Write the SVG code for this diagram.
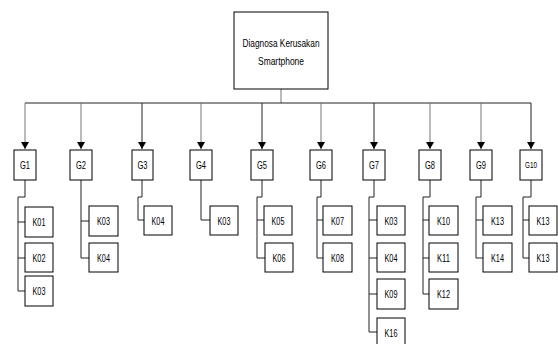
<svg xmlns="http://www.w3.org/2000/svg" width="558" height="344" viewBox="0 0 558 344">
<style>
rect{fill:#fff;stroke:#000;stroke-width:1}
text{font-family:"Liberation Sans",Arial,sans-serif;font-size:11px;fill:#000;text-anchor:middle}
.c{fill:none;stroke:#222;stroke-width:1}
.g{fill:none;stroke:#777;stroke-width:1}
</style>
<defs><marker id="a" markerWidth="8" markerHeight="8" refX="7" refY="4" orient="auto" markerUnits="userSpaceOnUse"><path d="M0,0L7,4L0,8z" fill="#000"/></marker></defs>
<rect width="558" height="344" style="stroke:none"/>
<g id="connectors">
<path class="g" d="M281,89V103"/>
<path class="c" d="M25,103H531"/>
<path class="g" d="M25,103V149" marker-end="url(#a)"/>
<path class="g" d="M81,103V149" marker-end="url(#a)"/>
<path class="c" d="M142,103V149" marker-end="url(#a)"/>
<path class="g" d="M201,103V149" marker-end="url(#a)"/>
<path class="c" d="M262,103V149" marker-end="url(#a)"/>
<path class="g" d="M321,103V149" marker-end="url(#a)"/>
<path class="c" d="M374,103V149" marker-end="url(#a)"/>
<path class="g" d="M430,103V149" marker-end="url(#a)"/>
<path class="g" d="M481,103V149" marker-end="url(#a)"/>
<path class="c" d="M531,103V149" marker-end="url(#a)"/>
<path class="c" d="M25,180V197H18V291H25M18,222H25M18,258H25"/>
<path class="c" d="M81,180V258H89M81,221H89"/>
<path class="c" d="M142,180V197H138V220H144"/>
<path class="c" d="M201,180V220H210"/>
<path class="c" d="M262,180V197H257V258H265M257,220H264"/>
<path class="c" d="M321,180V197H317V258H323M317,220H323"/>
<path class="c" d="M374,180V197H369V332H377M369,220H377M369,258H377M369,294H377"/>
<path class="c" d="M430,180V197H423V294H429M423,220H429M423,258H429"/>
<path class="c" d="M481,180V197H476V258H483M476,220H483"/>
<path class="c" d="M531,180V197H523V258H529M523,220H529"/>
</g>
<g id="root"><rect x="234" y="12" width="94" height="77"/><text x="281" y="47" textLength="77" lengthAdjust="spacingAndGlyphs">Diagnosa Kerusakan</text><text x="281" y="65" textLength="46" lengthAdjust="spacingAndGlyphs">Smartphone</text></g>
<g id="G1"><rect x="14" y="150" width="22" height="30"/><text x="25" y="169" textLength="10" lengthAdjust="spacingAndGlyphs">G1</text></g>
<g id="G2"><rect x="70" y="150" width="22" height="30"/><text x="81" y="169" textLength="10" lengthAdjust="spacingAndGlyphs">G2</text></g>
<g id="G3"><rect x="132" y="150" width="21" height="30"/><text x="142.5" y="169" textLength="10" lengthAdjust="spacingAndGlyphs">G3</text></g>
<g id="G4"><rect x="190" y="150" width="22" height="30"/><text x="201" y="169" textLength="10" lengthAdjust="spacingAndGlyphs">G4</text></g>
<g id="G5"><rect x="251" y="150" width="22" height="30"/><text x="262" y="169" textLength="10" lengthAdjust="spacingAndGlyphs">G5</text></g>
<g id="G6"><rect x="310" y="150" width="22" height="30"/><text x="321" y="169" textLength="10" lengthAdjust="spacingAndGlyphs">G6</text></g>
<g id="G7"><rect x="363" y="150" width="22" height="30"/><text x="374" y="169" textLength="10" lengthAdjust="spacingAndGlyphs">G7</text></g>
<g id="G8"><rect x="419" y="150" width="22" height="30"/><text x="430" y="169" textLength="10" lengthAdjust="spacingAndGlyphs">G8</text></g>
<g id="G9"><rect x="470" y="150" width="22" height="30"/><text x="481" y="169" textLength="10" lengthAdjust="spacingAndGlyphs">G9</text></g>
<g id="G10"><rect x="520" y="150" width="22" height="30"/><text x="531" y="168" style="font-size:8.5px" textLength="12" lengthAdjust="spacingAndGlyphs">G10</text></g>
<g id="G1-K01"><rect x="25" y="207" width="28" height="30"/><text x="39" y="226" textLength="13" lengthAdjust="spacingAndGlyphs">K01</text></g>
<g id="G1-K02"><rect x="25" y="243" width="28" height="29"/><text x="39" y="261.5" textLength="13" lengthAdjust="spacingAndGlyphs">K02</text></g>
<g id="G1-K03"><rect x="25" y="276" width="28" height="30"/><text x="39" y="295" textLength="13" lengthAdjust="spacingAndGlyphs">K03</text></g>
<g id="G2-K03"><rect x="89" y="206" width="29" height="30"/><text x="103.5" y="225" textLength="13" lengthAdjust="spacingAndGlyphs">K03</text></g>
<g id="G2-K04"><rect x="89" y="243" width="29" height="29"/><text x="103.5" y="261.5" textLength="13" lengthAdjust="spacingAndGlyphs">K04</text></g>
<g id="G3-K04"><rect x="144" y="206" width="28" height="29"/><text x="158" y="224.5" textLength="13" lengthAdjust="spacingAndGlyphs">K04</text></g>
<g id="G4-K03"><rect x="210" y="206" width="28" height="29"/><text x="224" y="224.5" textLength="13" lengthAdjust="spacingAndGlyphs">K03</text></g>
<g id="G5-K05"><rect x="264" y="206" width="28" height="29"/><text x="278" y="224.5" textLength="13" lengthAdjust="spacingAndGlyphs">K05</text></g>
<g id="G5-K06"><rect x="265" y="243" width="28" height="29"/><text x="279" y="261.5" textLength="13" lengthAdjust="spacingAndGlyphs">K06</text></g>
<g id="G6-K07"><rect x="323" y="206" width="29" height="29"/><text x="337.5" y="224.5" textLength="13" lengthAdjust="spacingAndGlyphs">K07</text></g>
<g id="G6-K08"><rect x="323" y="243" width="29" height="29"/><text x="337.5" y="261.5" textLength="13" lengthAdjust="spacingAndGlyphs">K08</text></g>
<g id="G7-K03"><rect x="377" y="206" width="28" height="29"/><text x="391" y="224.5" textLength="13" lengthAdjust="spacingAndGlyphs">K03</text></g>
<g id="G7-K04"><rect x="377" y="243" width="28" height="29"/><text x="391" y="261.5" textLength="13" lengthAdjust="spacingAndGlyphs">K04</text></g>
<g id="G7-K09"><rect x="377" y="279" width="28" height="30"/><text x="391" y="298" textLength="13" lengthAdjust="spacingAndGlyphs">K09</text></g>
<g id="G7-K16"><rect x="377" y="318" width="28" height="30"/><text x="391" y="336.5" textLength="13" lengthAdjust="spacingAndGlyphs">K16</text></g>
<g id="G8-K10"><rect x="429" y="206" width="29" height="29"/><text x="443.5" y="224.5" textLength="13" lengthAdjust="spacingAndGlyphs">K10</text></g>
<g id="G8-K11"><rect x="429" y="243" width="29" height="29"/><text x="443.5" y="261.5" textLength="13" lengthAdjust="spacingAndGlyphs">K11</text></g>
<g id="G8-K12"><rect x="429" y="279" width="29" height="30"/><text x="443.5" y="298" textLength="13" lengthAdjust="spacingAndGlyphs">K12</text></g>
<g id="G9-K13"><rect x="483" y="206" width="29" height="29"/><text x="497.5" y="224.5" textLength="13" lengthAdjust="spacingAndGlyphs">K13</text></g>
<g id="G9-K14"><rect x="483" y="243" width="29" height="29"/><text x="497.5" y="261.5" textLength="13" lengthAdjust="spacingAndGlyphs">K14</text></g>
<g id="G10-K13a"><rect x="529" y="206" width="28" height="29"/><text x="543" y="224.5" textLength="13" lengthAdjust="spacingAndGlyphs">K13</text></g>
<g id="G10-K13b"><rect x="529" y="243" width="28" height="29"/><text x="543" y="261.5" textLength="13" lengthAdjust="spacingAndGlyphs">K13</text></g>
</svg>
